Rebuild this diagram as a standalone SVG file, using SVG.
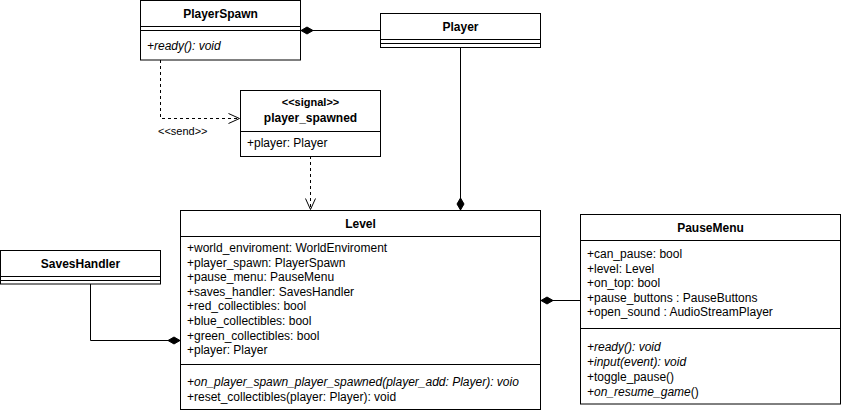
<svg xmlns="http://www.w3.org/2000/svg" width="841" height="414" viewBox="0 0 841 414">
<style>
.box{fill:#fff;stroke:#000;stroke-width:1}
.ln{fill:none;stroke:#000;stroke-width:1}
.dash{fill:none;stroke:#000;stroke-width:1;stroke-dasharray:3,3}
.t{font-family:"Liberation Sans",Arial,sans-serif;font-size:12px;fill:#000}
.h{font-family:"Liberation Sans",Arial,sans-serif;font-size:12px;font-weight:bold;fill:#000;text-anchor:middle}
.i{font-style:italic}
.s{font-family:"Liberation Sans",Arial,sans-serif;font-size:11px;fill:#000}
</style>
<defs>
<marker id="dia" markerWidth="14" markerHeight="8" refX="12" refY="4" orient="auto" markerUnits="userSpaceOnUse" overflow="visible">
<path d="M0,4 L6,0.5 L12,4 L6,7.5 Z" fill="#000" stroke="#000" stroke-width="1"/>
</marker>
<marker id="open" markerWidth="14" markerHeight="12" refX="12" refY="6" orient="auto" markerUnits="userSpaceOnUse" overflow="visible">
<path d="M1,1 L12,6 L1,11" fill="none" stroke="#000" stroke-width="1"/>
</marker>
</defs>
<g id="connectors">
<path class="ln" d="M380.5,30.5 L301,30.5" marker-end="url(#dia)"/>
<path class="ln" d="M460.5,47 L460.5,210" marker-end="url(#dia)"/>
<path class="ln" d="M90.5,284 L90.5,340.5 L180,340.5" marker-end="url(#dia)"/>
<path class="ln" d="M580,300.5 L541,300.5" marker-end="url(#dia)"/>
<path class="dash" d="M160.5,60 L160.5,118.5 L239.5,118.5" marker-end="url(#open)"/>
<path class="dash" d="M310.5,156 L310.5,209.5" marker-end="url(#open)"/>
<text class="s" x="158" y="134.5">&lt;&lt;send&gt;&gt;</text>
</g>
<g id="PlayerSpawn">
<rect class="box" x="140.5" y="0.5" width="160" height="59.5"/>
<path class="ln" d="M140.5,26.5 H300.5 M140.5,30.5 H300.5"/>
<text class="h" x="220.5" y="17.5">PlayerSpawn</text>
<text class="t i" x="147" y="49.5">+ready(): void</text>
</g>
<g id="Player">
<rect class="box" x="380.5" y="13.5" width="160" height="34"/>
<path class="ln" d="M380.5,39.5 H540.5 M380.5,43.5 H540.5"/>
<text class="h" x="460.5" y="30.5">Player</text>
</g>
<g id="player_spawned">
<rect class="box" x="240.5" y="90.5" width="140" height="66"/>
<path class="ln" d="M240.5,131.5 H380.5"/>
<text class="h" x="310.5" y="105.5" style="font-size:11px">&lt;&lt;signal&gt;&gt;</text>
<text class="h" x="310.5" y="121.5">player_spawned</text>
<text class="t" x="247" y="147">+player: Player</text>
</g>
<g id="Level">
<rect class="box" x="180.5" y="210.5" width="360" height="199"/>
<path class="ln" d="M180.5,236.5 H540.5 M180.5,364.5 H540.5"/>
<text class="h" x="360.5" y="227.5">Level</text>
<text class="t" x="187" y="252">+world_enviroment: WorldEnviroment</text>
<text class="t" x="187" y="266.6">+player_spawn: PlayerSpawn</text>
<text class="t" x="187" y="281.2">+pause_menu: PauseMenu</text>
<text class="t" x="187" y="295.8">+saves_handler: SavesHandler</text>
<text class="t" x="187" y="310.4">+red_collectibles: bool</text>
<text class="t" x="187" y="325">+blue_collectibles: bool</text>
<text class="t" x="187" y="339.6">+green_collectibles: bool</text>
<text class="t" x="187" y="354.2">+player: Player</text>
<text class="t i" x="187" y="386">+on_player_spawn_player_spawned(player_add: Player): voio</text>
<text class="t" x="187" y="401">+reset_collectibles(player: Player): void</text>
</g>
<g id="SavesHandler">
<rect class="box" x="0.5" y="250.5" width="160" height="33.5"/>
<path class="ln" d="M0.5,276.5 H160.5 M0.5,280.5 H160.5"/>
<text class="h" x="80.5" y="267.5">SavesHandler</text>
</g>
<g id="PauseMenu">
<rect class="box" x="580.5" y="214.5" width="260" height="189.5"/>
<path class="ln" d="M580.5,240.5 H840.5 M580.5,328.5 H840.5"/>
<text class="h" x="710.5" y="231.5">PauseMenu</text>
<text class="t" x="587" y="258">+can_pause: bool</text>
<text class="t" x="587" y="272.5">+level: Level</text>
<text class="t" x="587" y="287">+on_top: bool</text>
<text class="t" x="587" y="301.5">+pause_buttons : PauseButtons</text>
<text class="t" x="587" y="316">+open_sound : AudioStreamPlayer</text>
<text class="t i" x="587" y="351">+ready(): void</text>
<text class="t i" x="587" y="366">+input(event): void</text>
<text class="t" x="587" y="381">+toggle_pause()</text>
<text class="t" x="587" y="396"><tspan font-style="italic">+on_resume_game</tspan>()</text>
</g>
</svg>
